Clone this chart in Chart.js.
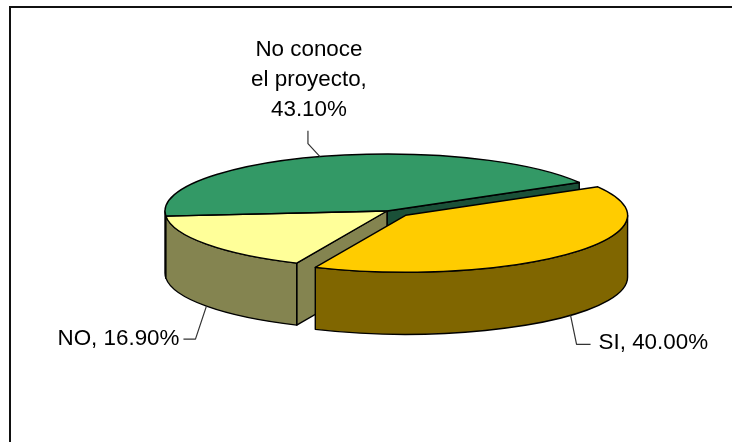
<!DOCTYPE html>
<html lang="es">
<head>
    <meta charset="UTF-8">
    <title>Conoce el proyecto</title>
    <script src="https://cdn.jsdelivr.net/npm/chart.js"></script>
    <style>
        html, body { margin: 0; background: #fff; }
        #myChart { display: block; }
    </style>
</head>
<body>
    <canvas id="myChart" width="732" height="442"></canvas>

    <script>
        const categories = ["SI", "NO", "No conoce el proyecto"];
        const values = [40.0, 16.9, 43.1];
        const labelLines = [["SI, 40.00%"], ["NO, 16.90%"], ["No conoce", "el proyecto,", "43.10%"]];

        const topColors = ["#FFCC00", "#FFFF99", "#339966"];
        const sideColors = ["#806600", "#848450", "#1A5038"];

        const firstSliceAngle = 60;
        const pieRadius = 222;
        const squash = 57 / 222;
        const depth = 62;
        const explode = [25, 0, 0];

        // elbow and text spot of each leader line, relative to the slice rim
        const leaderElbows = [[6, 29], [-11, 33], [-12, -13]];
        const leaderEnds = [[20, 29], [-23, 33], [-12, -26]];
        const textSpots = [[28, 34], [-27, 39], [-11, -41]];

        const visibleFaces = [2, 1, 0]; // back to front

        function rimPoint(arc, angle, drop) {
            return [arc.x + Math.cos(angle) * arc.outerRadius,
                    arc.y + Math.sin(angle) * arc.outerRadius * squash + drop];
        }

        function drawQuad(ctx, a, b, c, d, color) {
            ctx.beginPath();
            ctx.moveTo(a[0], a[1]);
            ctx.lineTo(b[0], b[1]);
            ctx.lineTo(c[0], c[1]);
            ctx.lineTo(d[0], d[1]);
            ctx.closePath();
            ctx.fillStyle = color;
            ctx.fill();
            ctx.stroke();
        }

        function drawCutFace(ctx, arc, angle, color) {
            const rim = rimPoint(arc, angle, 0);
            drawQuad(ctx, [arc.x, arc.y], rim, [rim[0], rim[1] + depth], [arc.x, arc.y + depth], color);
        }

        function drawOuterSide(ctx, arc, color) {
            // only the part of the rim facing the viewer, 0 to 180 degrees
            const from = Math.max(arc.startAngle, 0);
            const to = Math.min(arc.endAngle, Math.PI);
            if (to <= from) return;
            const ry = arc.outerRadius * squash;
            ctx.beginPath();
            ctx.ellipse(arc.x, arc.y, arc.outerRadius, ry, 0, from, to);
            ctx.ellipse(arc.x, arc.y + depth, arc.outerRadius, ry, 0, to, from, true);
            ctx.closePath();
            ctx.fillStyle = color;
            ctx.fill();
            ctx.stroke();
        }

        const pie3d = {
            id: "pie3d",
            beforeDraw(chart) {
                const ctx = chart.ctx;
                ctx.save();
                ctx.strokeStyle = "#111";
                ctx.lineWidth = 2;
                ctx.beginPath();
                ctx.moveTo(10, 442);
                ctx.lineTo(10, 7);
                ctx.lineTo(732, 7);
                ctx.stroke();
                ctx.restore();
            },
            afterDatasetsUpdate(chart) {
                const arcs = chart.getDatasetMeta(0).data;
                arcs.forEach((arc, i) => {
                    const mid = (arc.startAngle + arc.endAngle) / 2;
                    arc.x += Math.cos(mid) * explode[i];
                    arc.y += Math.sin(mid) * explode[i] * squash;
                });
            },
            beforeDatasetsDraw(chart) {
                const ctx = chart.ctx;
                const arcs = chart.getDatasetMeta(0).data;
                ctx.save();
                ctx.strokeStyle = "#000";
                ctx.lineWidth = 1.4;
                ctx.lineJoin = "round";
                visibleFaces.forEach(i => {
                    const arc = arcs[i];
                    if (Math.cos(arc.startAngle) < 0) drawCutFace(ctx, arc, arc.startAngle, sideColors[i]);
                    if (Math.cos(arc.endAngle) > 0) drawCutFace(ctx, arc, arc.endAngle, sideColors[i]);
                    drawOuterSide(ctx, arc, sideColors[i]);
                });
                ctx.restore();

                // the library fills the slice tops through this squashed view
                const cy = (chart.chartArea.top + chart.chartArea.bottom) / 2;
                ctx.save();
                ctx.translate(0, cy);
                ctx.scale(1, squash);
                ctx.translate(0, -cy);
                arcs.forEach(arc => {
                    arc.y = cy + (arc.y - cy) / squash;
                });
            },
            afterDatasetsDraw(chart) {
                const ctx = chart.ctx;
                const arcs = chart.getDatasetMeta(0).data;
                const cy = (chart.chartArea.top + chart.chartArea.bottom) / 2;
                ctx.restore();
                arcs.forEach(arc => {
                    arc.y = cy + (arc.y - cy) * squash;
                });

                ctx.save();
                ctx.strokeStyle = "#000";
                ctx.lineWidth = 1.4;
                ctx.lineJoin = "round";
                visibleFaces.forEach(i => {
                    const arc = arcs[i];
                    ctx.beginPath();
                    ctx.moveTo(arc.x, arc.y);
                    ctx.ellipse(arc.x, arc.y, arc.outerRadius, arc.outerRadius * squash, 0, arc.startAngle, arc.endAngle);
                    ctx.closePath();
                    ctx.stroke();
                });

                ctx.font = "22.4px 'Liberation Sans', Arial, sans-serif";
                ctx.textBaseline = "alphabetic";
                arcs.forEach((arc, i) => {
                    const mid = (arc.startAngle + arc.endAngle) / 2;
                    const rim = rimPoint(arc, mid, Math.sin(mid) > 0 ? depth : 0);

                    ctx.strokeStyle = "#333";
                    ctx.lineWidth = 1.2;
                    ctx.beginPath();
                    ctx.moveTo(rim[0], rim[1]);
                    ctx.lineTo(rim[0] + leaderElbows[i][0], rim[1] + leaderElbows[i][1]);
                    ctx.lineTo(rim[0] + leaderEnds[i][0], rim[1] + leaderEnds[i][1]);
                    ctx.stroke();

                    ctx.fillStyle = "#000";
                    ctx.textAlign = i === 0 ? "left" : i === 1 ? "right" : "center";
                    const lines = labelLines[i];
                    lines.forEach((line, n) => {
                        const y = rim[1] + textSpots[i][1] - (lines.length - 1 - n) * 30;
                        ctx.fillText(line, rim[0] + textSpots[i][0], y);
                    });
                });
                ctx.restore();
            }
        };

        new Chart(document.getElementById("myChart"), {
            type: "pie",
            data: {
                labels: categories,
                datasets: [{
                    data: values,
                    backgroundColor: topColors,
                    borderWidth: 0,
                    clip: false
                }]
            },
            options: {
                responsive: false,
                animation: false,
                rotation: firstSliceAngle,
                radius: pieRadius,
                layout: {
                    autoPadding: false,
                    padding: { left: 42, right: 0, top: 0, bottom: 20 }
                },
                plugins: {
                    legend: { display: false },
                    tooltip: { enabled: false }
                }
            },
            plugins: [pie3d]
        });
    </script>
</body>
</html>
